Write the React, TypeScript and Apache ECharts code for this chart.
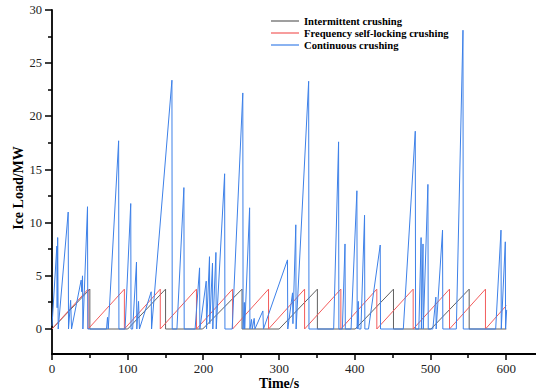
import React, { useEffect, useRef } from "react";
import * as echarts from "echarts";

const seriesNames = ["Intermittent crushing", "Frequency self-locking crushing", "Continuous crushing"];

const X_MIN = 0;
const X_MAX = 700;
const Y_MIN = -2.35;
const Y_MAX = 30;
const xTickValues = [0, 100, 200, 300, 400, 500, 600];
const xMinorValues = [50, 150, 250, 350, 450, 550];
const yTickValues = [0, 5, 10, 15, 20, 25, 30];
const yMinorValues = [2.5, 7.5, 12.5, 17.5, 22.5, 27.5];

const intermittent: [number, number][] = [
  [0, 0], [50, 3.75], [50, 0], [100, 0], [150, 3.75], [150, 0], [199, 0], [251, 3.75], [251, 0],
  [300, 0], [350.5, 3.75], [350.5, 0], [400.5, 0], [451, 3.75], [451, 0], [500.5, 0], [551, 3.75], [551, 0], [600, 0],
];

const frequencyLocking: [number, number][] = [
  [0, 0], [47.7, 3.75], [47.7, 0], [95.6, 3.75], [95.6, 0], [143, 3.75], [143, 0], [190.8, 3.75], [190.8, 0],
  [238.5, 3.75], [238.5, 0], [286, 3.75], [286, 0], [333.6, 3.75], [333.6, 0], [381.5, 3.75], [381.5, 0],
  [429, 3.75], [429, 0], [477, 3.75], [477, 0], [525, 3.75], [525, 0], [572.5, 3.75], [572.5, 0], [600, 2.2],
];

const continuous: [number, number][] = [
  [0, 0.3], [6.4, 7.8], [6.8, 2.0], [7.5, 8.6], [8.2, 0],
  [21.4, 11.0], [21.8, 0], [24.6, 2.7], [25.8, 0],
  [38.5, 4.6], [39.3, 3.5], [40.3, 5.0], [40.8, 0],
  [46.9, 11.5], [47.3, 0], [72, 0], [73.3, 1.1], [74.3, 0],
  [88, 17.7], [88.4, 0], [96.5, 0], [104, 11.8], [104.4, 0],
  [106.5, 0], [111.6, 6.3], [112, 0], [114.3, 2.6], [115.5, 0],
  [131, 3.5], [131.5, 0], [158.4, 23.4], [158.8, 0],
  [165, 0], [174.2, 13.3], [174.6, 0], [189, 0], [194.9, 5.75], [195.3, 0],
  [203.7, 4.5], [204.1, 0], [208, 6.8], [208.4, 0.5], [212, 6.2], [212.4, 0], [216.5, 7.2], [216.9, 0],
  [228, 14.6], [228.4, 0], [238, 0], [252, 22.2], [252.4, 0],
  [254, 2.5], [254.5, 0], [261, 11.4], [261.4, 0], [263.5, 0.9], [264.5, 0], [267, 1.0], [268, 0],
  [278.5, 1.7], [279.3, 0], [311, 6.5], [311.4, 0], [317.7, 3.4], [318.2, 0.5], [322, 9.8], [322.4, 0],
  [339, 23.3], [339.4, 0], [372, 0], [378.5, 17.6], [378.9, 0],
  [383.5, 0], [387, 8.0], [387.4, 0], [395, 0], [402.7, 13.0], [403.1, 0], [404.5, 2.6], [405.2, 0],
  [408, 0], [412.8, 10.7], [413.2, 0], [418, 0], [433.5, 7.9], [433.9, 0],
  [464, 0], [479.8, 18.6], [480.2, 0], [484.5, 0], [487.5, 8.6], [487.9, 0], [488.5, 0], [490, 8.0], [490.4, 0],
  [496.5, 13.6], [496.9, 0], [503, 0], [507, 3.0], [507.4, 0], [515.8, 9.3], [516.2, 0],
  [534, 0], [542.8, 28.1], [543.2, 0], [586, 0], [593, 9.3], [593.4, 0], [598.7, 8.2], [599.1, 0], [600.5, 1.8],
];

const serif = "'Liberation Serif', 'Times New Roman', serif";
const colors = ["#606060", "#f25c5c", "#3d80e8"];

function tickSeries(values: number[], axis: "x" | "y", len: number) {
  return {
    type: "custom",
    silent: true,
    clip: false,
    z: 10,
    data: values.map((v) => (axis === "x" ? [v, Y_MIN] : [X_MIN, v])),
    renderItem: (_params: any, api: any) => {
      const p = api.coord([api.value(0), api.value(1)]);
      const x = Math.round(p[0]);
      const y = Math.round(p[1]);
      const shape = axis === "x"
        ? { x1: x, y1: y, x2: x, y2: y + len }
        : { x1: x, y1: y, x2: x - len, y2: y };
      return { type: "line", shape, style: { stroke: "#000", lineWidth: 1.5 } };
    },
  };
}

export default function App() {
  const ref = useRef<HTMLDivElement>(null);
  useEffect(() => {
    if (!ref.current) return;
    const chart = echarts.init(ref.current, undefined, { renderer: "svg" });
    const option: any = {
      animation: false,
      grid: { left: 52, top: 10, width: 530, bottom: 38, outerBoundsMode: "none", containLabel: false },
      legend: {
        orient: "vertical",
        left: 266,
        top: 10,
        icon: "rect",
        itemWidth: 28,
        itemHeight: 1.2,
        itemGap: 0,
        data: seriesNames,
        textStyle: { fontFamily: serif, fontWeight: "bold", fontSize: 10.6, color: "#000", lineHeight: 12 },
      },
      xAxis: {
        type: "value", min: X_MIN, max: X_MAX, interval: 100, position: "bottom",
        axisLine: { show: true, onZero: false, lineStyle: { color: "#000", width: 1.8 } },
        axisTick: { show: false },
        axisLabel: { fontFamily: serif, fontSize: 13, color: "#222", margin: 8, showMaxLabel: false },
        splitLine: { show: false },
      },
      yAxis: {
        type: "value", min: Y_MIN, max: Y_MAX, splitNumber: 6, position: "left",
        axisLine: { show: true, onZero: false, lineStyle: { color: "#000", width: 1.8 } },
        axisTick: { show: false },
        axisLabel: { fontFamily: serif, fontSize: 12.5, color: "#222", margin: 10, showMinLabel: false },
        splitLine: { show: false },
      },
      graphic: [
        {
          type: "text", x: 18, y: 188, rotation: Math.PI / 2,
          style: { text: "Ice Load/MW", font: `bold 14px ${serif}`, fill: "#000", align: "center", verticalAlign: "middle" },
        },
        {
          type: "text", x: 279, y: 383,
          style: { text: "Time/s", font: `bold 14px ${serif}`, fill: "#000", align: "center", verticalAlign: "middle" },
        },
      ],
      series: [
        { name: seriesNames[0], type: "line", data: intermittent, symbol: "none", lineStyle: { width: 1, color: colors[0] }, itemStyle: { color: colors[0] } },
        { name: seriesNames[1], type: "line", data: frequencyLocking, symbol: "none", lineStyle: { width: 1, color: colors[1] }, itemStyle: { color: colors[1] } },
        { name: seriesNames[2], type: "line", data: continuous, symbol: "none", lineStyle: { width: 1, color: colors[2] }, itemStyle: { color: colors[2] } },
        tickSeries(xTickValues, "x", 6),
        tickSeries(xMinorValues, "x", 4),
        tickSeries(yTickValues, "y", 7),
        tickSeries(yMinorValues, "y", 4),
      ],
    };
    chart.setOption(option);
    return () => chart.dispose();
  }, []);
  return <div ref={ref} style={{ position: "absolute", left: 0, top: 0, width: 536, height: 392 }} />;
}
